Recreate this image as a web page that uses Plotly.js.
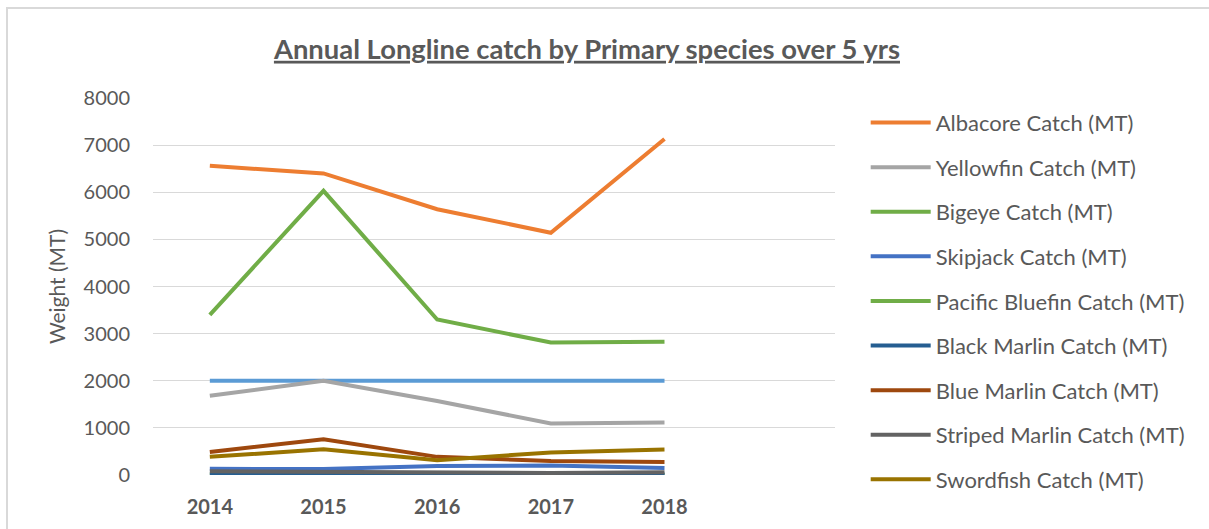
<!DOCTYPE html>
<html>
<head>
<meta charset="utf-8">
<script src="https://cdn.plot.ly/plotly-3.0.1.min.js"></script>
<style>
  html, body { margin: 0; padding: 0; background: #ffffff; }
  #wrap { position: relative; width: 1209px; height: 529px; overflow: hidden; }
  #frame { position: absolute; left: 6px; top: 7px; width: 1300px; height: 700px;
           border-top: 2px solid #d9d9d9; border-left: 2px solid #d9d9d9; pointer-events: none; }
  #chart { position: absolute; left: 0; top: 0; width: 1209px; height: 529px; }
</style>
</head>
<body>
<div id="wrap">
  <div id="chart"></div>
  <div id="frame"></div>
</div>
<script>
// ---- data ----
const years = [2014, 2015, 2016, 2017, 2018];
const albacore = [6560, 6400, 5640, 5140, 7130];
const yellowfin = [1680, 2000, 1570, 1095, 1115];
const bigeye = [3400, 6030, 3300, 2810, 2830];
const skipjack = [130, 125, 190, 200, 150];
const pacificBluefin = [5, 5, 5, 5, 5];
const blackMarlin = [10, 10, 10, 10, 10];
const blueMarlin = [490, 760, 385, 295, 275];
const stripedMarlin = [80, 70, 60, 45, 60];
const swordfish = [385, 545, 315, 480, 543];
const referenceLine = [2000, 2000, 2000, 2000, 2000];

const seriesNames = [
  'Albacore Catch (MT)', 'Yellowfin Catch (MT)', 'Bigeye Catch (MT)', 'Skipjack Catch (MT)',
  'Pacific Bluefin Catch (MT)', 'Black Marlin Catch (MT)', 'Blue Marlin Catch (MT)',
  'Striped Marlin Catch (MT)', 'Swordfish Catch (MT)'
];
const seriesValues = [albacore, yellowfin, bigeye, skipjack, pacificBluefin, blackMarlin,
  blueMarlin, stripedMarlin, swordfish];
const seriesColors = ['#ED7D31', '#A5A5A5', '#70AD47', '#4472C4', '#70AD47', '#255E91',
  '#9E480E', '#636363', '#997300'];

const FONT = 'Lato, "Open Sans", sans-serif';
const GREY = '#595959';

const traces = [{
  x: years, y: referenceLine, type: 'scatter', mode: 'lines', name: '2000 MT',
  showlegend: false, line: {color: '#5B9BD5', width: 4}, hoverinfo: 'skip'
}];
seriesNames.forEach((n, i) => {
  traces.push({
    x: years, y: seriesValues[i], type: 'scatter', mode: 'lines', name: n,
    legendgroup: 'g' + i,
    line: {color: seriesColors[i], width: 4}
  });
});

const layout = {
  width: 1209, height: 529,
  paper_bgcolor: 'rgba(0,0,0,0)', plot_bgcolor: 'rgba(0,0,0,0)',
  margin: {l: 153, r: 374, t: 98, b: 54, pad: 0},
  font: {family: FONT, color: GREY},
  title: {
    text: '<u>Annual Longline catch by Primary species over 5 yrs</u>',
    font: {family: FONT, size: 27.4, color: GREY, weight: 'bold'},
    x: 0.4855, xanchor: 'center', y: 0.907, yanchor: 'middle'
  },
  xaxis: {
    range: [2013.5, 2019.5],
    tickvals: years, ticktext: years.map(String),
    showgrid: false, zeroline: false, showline: false,
    ticks: 'outside', ticklen: 14, tickcolor: 'rgba(0,0,0,0)',
    tickfont: {family: FONT, size: 20, color: GREY, weight: 'bold'},
    fixedrange: true
  },
  yaxis: {
    range: [0, 8000], dtick: 1000, tickformat: 'd',
    showgrid: true, gridcolor: '#d9d9d9', gridwidth: 1,
    zeroline: false, showline: false,
    ticks: 'outside', ticklen: 18, tickcolor: 'rgba(0,0,0,0)',
    tickfont: {family: FONT, size: 20, color: GREY},
    title: {text: 'Weight (MT)', font: {family: FONT, size: 21, color: GREY}, standoff: 12},
    fixedrange: true
  },
  legend: {
    x: 1.045, xanchor: 'left', y: 0.99, yanchor: 'top',
    font: {family: FONT, size: 22, color: GREY},
    tracegroupgap: 13, bgcolor: 'rgba(0,0,0,0)', itemwidth: 60,
    maxheight: 520
  },
  showlegend: true
};

Plotly.newPlot('chart', traces, layout, {displayModeBar: false, staticPlot: true});
</script>
</body>
</html>
